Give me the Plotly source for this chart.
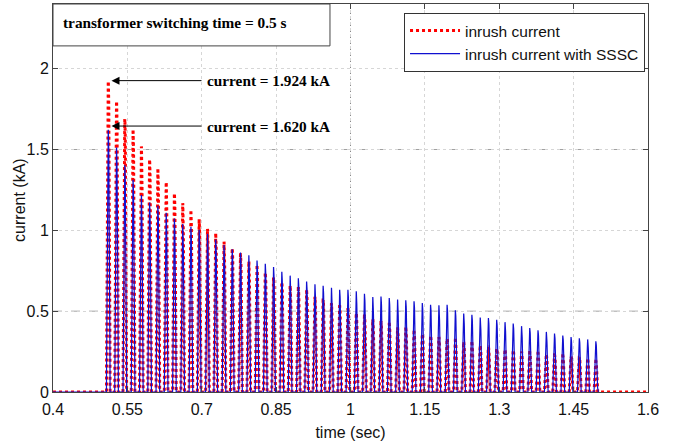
import numpy as np
import plotly.graph_objects as go

# ---- data -------------------------------------------------------------
f_sys = 60.0            # supply frequency (Hz)
t_first_peak = 0.5115   # time of first inrush peak (s)
t_switch = 0.5          # transformer switching instant (s)

# peak current of each cycle (kA)
inrush_peaks = [1.924, 1.80, 1.69, 1.61, 1.52, 1.44, 1.37, 1.30, 1.23, 1.17,
                1.11, 1.06, 1.01, 0.97, 0.93, 0.89, 0.85, 0.81, 0.77, 0.74,
                0.71, 0.68, 0.66, 0.64, 0.62, 0.59, 0.57, 0.55, 0.53, 0.51,
                0.49, 0.47, 0.45, 0.43, 0.42, 0.40, 0.39, 0.37, 0.36, 0.35,
                0.34, 0.33, 0.32, 0.31, 0.30, 0.29, 0.28, 0.27, 0.265, 0.26,
                0.25, 0.245, 0.24, 0.235, 0.23, 0.225, 0.22, 0.215, 0.21, 0.19]

sssc_peaks = [1.620, 1.51, 1.40, 1.31, 1.22, 1.17, 1.15, 1.11, 1.07, 1.04,
              1.02, 1.00, 0.98, 0.94, 0.91, 0.88, 0.86, 0.846, 0.81, 0.79,
              0.77, 0.74, 0.72, 0.70, 0.68, 0.667, 0.654, 0.645, 0.63, 0.63,
              0.623, 0.605, 0.588, 0.588, 0.578, 0.572, 0.564, 0.558, 0.547, 0.537,
              0.537, 0.537, 0.502, 0.486, 0.475, 0.461, 0.455, 0.444, 0.432, 0.420,
              0.407, 0.393, 0.379, 0.372, 0.358, 0.346, 0.337, 0.329, 0.325, 0.311]

x_ticks = [0.4, 0.55, 0.7, 0.85, 1, 1.15, 1.3, 1.45, 1.6]
y_ticks = [0, 0.5, 1, 1.5, 2]


def build_wave(peaks, t_start, t_end, conduction=0.44, n=40):
    """Unipolar inrush pulses: one cosine-cap pulse per cycle."""
    T = 1.0 / f_sys
    h = conduction * T / 2.0
    wh = 2 * np.pi * h / T
    c = np.cos(wh)
    ts, vs = [t_start], [0.0]
    for k, pk in enumerate(peaks):
        tc = t_first_peak + k * T
        d = np.linspace(-h, h, n)
        shape = (np.cos(2 * np.pi * d / T) - c) / (1 - c)
        ts.extend((tc + d).tolist())
        vs.extend((pk * np.clip(shape, 0, None)).tolist())
    ts.append(t_end)
    vs.append(0.0)
    return ts, vs


t_in, i_in = build_wave(inrush_peaks, 0.4, 1.6)
t_ss, i_ss = build_wave(sssc_peaks, 0.4, 1.5)

fig = go.Figure()
fig.add_trace(go.Scatter(x=t_in, y=i_in, mode="lines", name="inrush current",
                         line=dict(color="#ff0000", width=3, dash="dot")))
fig.add_trace(go.Scatter(x=t_ss, y=i_ss, mode="lines", name="inrush current with SSSC",
                         line=dict(color="#1010d0", width=1.2)))

axis_font = dict(family="Liberation Sans, Arial", size=16, color="#111")
fig.update_xaxes(range=[0.4, 1.6], tickvals=x_ticks, ticktext=[f"{v:g}" for v in x_ticks],
                 ticks="inside", ticklen=5, tickcolor="#444", mirror="ticks",
                 showline=True, linecolor="#444", linewidth=1,
                 showgrid=True, gridcolor="#d6d6d6", griddash="dot", gridwidth=1,
                 zeroline=False, tickfont=axis_font, ticklabelstandoff=3,
                 title=dict(text="time (sec)", font=axis_font, standoff=9))
fig.update_yaxes(range=[0, 2.4], tickvals=y_ticks, ticktext=[f"{v:g}" for v in y_ticks],
                 ticks="inside", ticklen=5, tickcolor="#444", mirror="ticks",
                 showline=True, linecolor="#444", linewidth=1,
                 showgrid=True, gridcolor="#d6d6d6", griddash="dot", gridwidth=1,
                 zeroline=False, tickfont=axis_font)

# y-axis label
fig.add_annotation(xref="paper", yref="paper", x=-0.0555, y=0.495, text="current (kA)",
                   textangle=-90, showarrow=False, xanchor="center", yanchor="middle",
                   font=axis_font)

# stronger grid lines
for yv in (0.5, 1.5):
    fig.add_shape(type="line", xref="x", yref="y", x0=0.4, x1=1.6, y0=yv, y1=yv,
                  line=dict(color="#a0a0a0", width=1, dash="dash"), layer="below")
fig.add_shape(type="line", xref="x", yref="y", x0=1, x1=1, y0=0, y1=2.4,
              line=dict(color="#888", width=1, dash="dot"), layer="below")

# title box
fig.add_shape(type="rect", xref="paper", yref="paper", x0=0, x1=0.4655, y0=0.892, y1=1.0,
              line=dict(color="#444", width=1), fillcolor="white")
serif = dict(family="Liberation Serif, Times New Roman", size=15.3, color="black")
fig.add_annotation(xref="paper", yref="paper", x=0.014, y=0.9535, xanchor="left", yanchor="middle",
                   text=f"<b>transformer switching time = {t_switch} s</b>", showarrow=False, font=serif)

# peak markers
for pk, ytxt in ((inrush_peaks[0], 1.926), (sssc_peaks[0], 1.645)):
    fig.add_annotation(x=0.518, y=ytxt, ax=0.7025, ay=ytxt, xref="x", yref="y",
                       axref="x", ayref="y", text="", showarrow=True,
                       arrowhead=2, arrowsize=1.6, arrowwidth=1, arrowcolor="black")
    fig.add_annotation(x=0.7056, y=ytxt, xref="x", yref="y", xanchor="left", yanchor="middle",
                       text=f"<b>current = {pk:.3f} kA</b>", showarrow=False, font=serif)

fig.update_layout(
    width=674, height=447,
    margin=dict(l=53, r=26, t=4, b=55),
    paper_bgcolor="white", plot_bgcolor="white",
    showlegend=True,
    legend=dict(x=0.995, y=0.977, xanchor="right", yanchor="top",
                bgcolor="white", bordercolor="#333", borderwidth=1,
                font=dict(family="Liberation Sans, Arial", size=15.5, color="#111"),
                tracegroupgap=0, itemwidth=50),
)

fig.write_html("out.html")
